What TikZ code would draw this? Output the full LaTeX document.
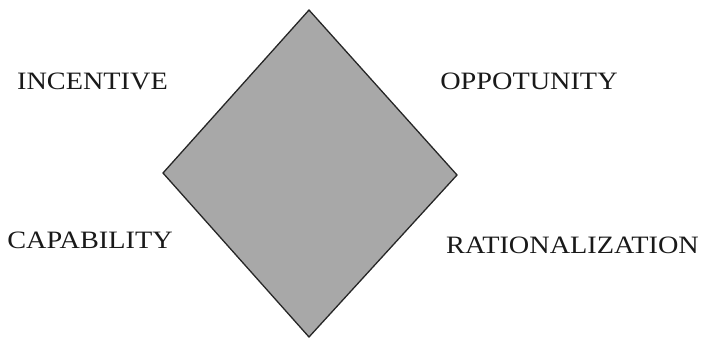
\documentclass[tikz,border=0pt]{standalone}
\usepackage{fontspec}
\setmainfont[FakeStretch=1.13]{Liberation Serif}
\begin{document}
\begin{tikzpicture}[x=1pt,y=-1pt,
  lbl/.style={inner sep=0pt,font=\fontsize{25}{27}\selectfont,text=black!90}]
\useasboundingbox (0,0) rectangle (701,341);
\coordinate (t) at (309,10);
\coordinate (l) at (163,173);
\coordinate (b) at (309,337);
\coordinate (r) at (457,175);
\draw[fill={rgb,255:red,168;green,168;blue,168},line width=1.3pt,draw=black!85] (t) -- (r) -- (b) -- (l) -- cycle;
\node[lbl] (inc) at (92.5,81.5) {INCENTIVE};
\node[lbl] (opp) at (529,81) {OPPOTUNITY};
\node[lbl] (cap) at (90,240) {CAPABILITY};
\node[lbl] (rat) at (572.5,245) {RATIONALIZATION};
\end{tikzpicture}
\end{document}
